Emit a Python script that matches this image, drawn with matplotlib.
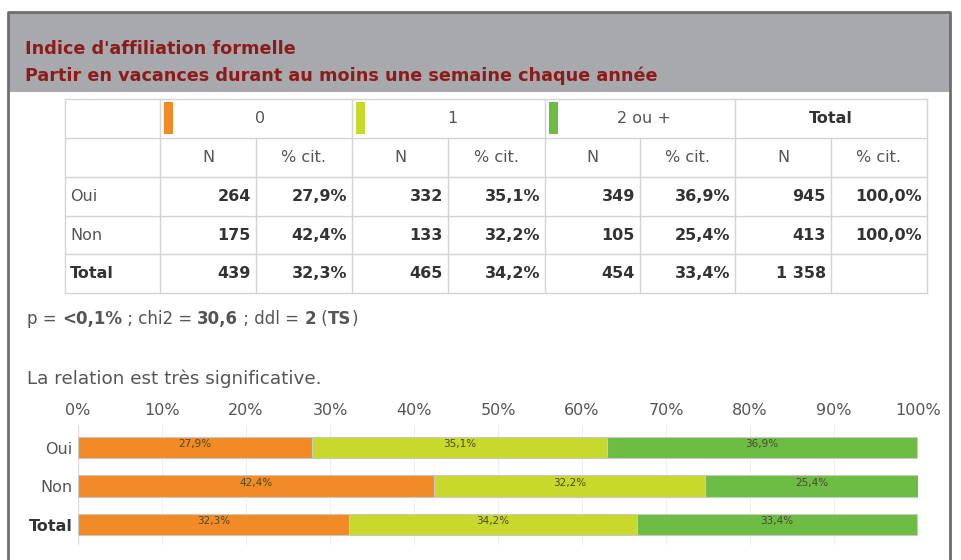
import numpy as np
import matplotlib
matplotlib.use("Agg")
import matplotlib.pyplot as plt
from matplotlib.patches import Rectangle

plt.rcParams['font.family'] = ['DejaVu Sans']

# data
title_1 = "Indice d'affiliation formelle"
title_2 = "Partir en vacances durant au moins une semaine chaque année"
groups = ['0', '1', '2 ou +']
group_colors = ['#f28a26', '#c9d92c', '#6dbd45']
rows = ['Oui', 'Non', 'Total']
n_oui = [264, 332, 349]
n_non = [175, 133, 105]
n_total = [439, 465, 454]
pct_oui = [27.9, 35.1, 36.9]
pct_non = [42.4, 32.2, 25.4]
pct_total = [32.3, 34.2, 33.4]
row_n_total = [945, 413, 1358]
row_pct_total = [100.0, 100.0, None]
stats_line = [("p = ", False), ("<0,1%", True), (" ; chi2 = ", False), ("30,6", True),
              (" ; ddl = ", False), ("2", True), (" (", False), ("TS", True), (")", False)]
conclusion = "La relation est très significative."

n_rows = [n_oui, n_non, n_total]
pct_rows = [pct_oui, pct_non, pct_total]


def fmt_n(v):
    return "{:,}".format(v).replace(",", " ")


def fmt_pct(v):
    if v is None:
        return ""
    return ("%.1f%%" % v).replace(".", ",")


DARK = '#333333'
GREY = '#555555'
LINE = '#d4d4d4'

fig = plt.figure(figsize=(9.62, 5.6), dpi=100)
bg = fig.add_axes([0, 0, 1, 1])
bg.set_xlim(0, 962)
bg.set_ylim(560, 0)
bg.axis('off')

# frame and header band
bg.add_patch(Rectangle((8, 12), 942, 80, facecolor='#a8a9ad', edgecolor='none'))
bg.plot([8, 8, 950, 950], [562, 12, 12, 562], color='#6e6e6e', lw=2, solid_capstyle='butt')
bg.text(25, 49, title_1, color='#8c1c1c', fontsize=12.7, fontweight='bold', va='center')
bg.text(25, 76, title_2, color='#8c1c1c', fontsize=12.7, fontweight='bold', va='center')

# table grid
col_x = [65, 160, 256, 352, 448, 545, 640, 735, 831, 927]
row_y = [99, 138, 177, 216, 254, 293]
for y in row_y:
    bg.plot([col_x[0], col_x[-1]], [y, y], color=LINE, lw=1)
bg.plot([col_x[0], col_x[0]], [row_y[0], row_y[-1]], color=LINE, lw=1)
bg.plot([col_x[-1], col_x[-1]], [row_y[0], row_y[-1]], color=LINE, lw=1)
for i, x in enumerate(col_x[1:-1], start=1):
    y0 = row_y[0] if i % 2 == 1 else row_y[1]
    bg.plot([x, x], [y0, row_y[-1]], color=LINE, lw=1)

fs = 11.5
hdr_y = (row_y[0] + row_y[1]) / 2
for g, (name, c) in enumerate(zip(groups, group_colors)):
    x0 = col_x[1 + 2 * g]
    x1 = col_x[3 + 2 * g]
    bg.add_patch(Rectangle((x0 + 4, row_y[0] + 3), 9, 32, facecolor=c, edgecolor='none'))
    bg.text((x0 + x1) / 2 + 4, hdr_y, name, color=GREY, fontsize=fs, ha='center', va='center')
bg.text((col_x[7] + col_x[9]) / 2, hdr_y, 'Total', color=DARK, fontsize=fs,
        fontweight='bold', ha='center', va='center')

sub_y = (row_y[1] + row_y[2]) / 2
for k in range(4):
    bg.text((col_x[1 + 2 * k] + col_x[2 + 2 * k]) / 2, sub_y, 'N', color=GREY,
            fontsize=fs, ha='center', va='center')
    bg.text((col_x[2 + 2 * k] + col_x[3 + 2 * k]) / 2, sub_y, '% cit.', color=GREY,
            fontsize=fs, ha='center', va='center')

for r, name in enumerate(rows):
    yc = (row_y[2 + r] + row_y[3 + r]) / 2
    bold = name == 'Total'
    bg.text(col_x[0] + 5, yc, name, color=DARK if bold else GREY, fontsize=fs,
            fontweight='bold' if bold else 'normal', ha='left', va='center')
    cells = []
    for g in range(3):
        cells += [fmt_n(n_rows[r][g]), fmt_pct(pct_rows[r][g])]
    cells += [fmt_n(row_n_total[r]), fmt_pct(row_pct_total[r])]
    for j, s in enumerate(cells):
        bg.text(col_x[2 + j] - 5, yc, s, color=DARK, fontsize=fs, fontweight='bold',
                ha='right', va='center')

# stats text
x = 27
renderer = fig.canvas.get_renderer()
for s, b in stats_line:
    t = bg.text(x, 319, s, color=GREY, fontsize=12, fontweight='bold' if b else 'normal',
                va='center', ha='left')
    bb = t.get_window_extent(renderer=renderer)
    x += bb.width
bg.text(27, 379, conclusion, color=GREY, fontsize=13.2, va='center', ha='left')

# stacked bar chart
ax = fig.add_axes([78 / 962, 1 - 545 / 560, 840 / 962, 120 / 560])
ypos = np.arange(len(rows))
left = np.zeros(len(rows))
for g in range(3):
    vals = np.array([pct_rows[r][g] for r in range(len(rows))])
    ax.barh(ypos, vals, left=left, height=0.55, color=group_colors[g],
            edgecolor='#c8c8c8', linewidth=0.8, zorder=3)
    for r in range(len(rows)):
        ax.text(left[r] + vals[r] / 2, ypos[r] - 0.08, fmt_pct(vals[r]), fontsize=7.5,
                color='#4a4a2a', ha='center', va='center', zorder=4)
    left += vals

ax.set_xlim(0, 100)
ax.set_ylim(2.53, -0.584)
ax.set_xticks(np.arange(0, 101, 10))
ax.set_xticklabels(['%d%%' % v for v in range(0, 101, 10)])
ax.xaxis.tick_top()
ax.tick_params(axis='x', length=0, labelsize=11.5, labelcolor=GREY, pad=5)
ax.set_yticks(ypos)
ax.set_yticklabels(rows)
ax.tick_params(axis='y', length=0, labelsize=11.5, labelcolor=GREY, pad=4)
ax.get_yticklabels()[2].set_fontweight('bold')
ax.get_yticklabels()[2].set_color(DARK)
ax.grid(axis='x', color='#eeeeee', lw=0.8, zorder=0)
for sp in ax.spines.values():
    sp.set_visible(False)
ax.axvline(0, color='#dddddd', lw=1, zorder=2)

fig.savefig('out.png', dpi=100)
